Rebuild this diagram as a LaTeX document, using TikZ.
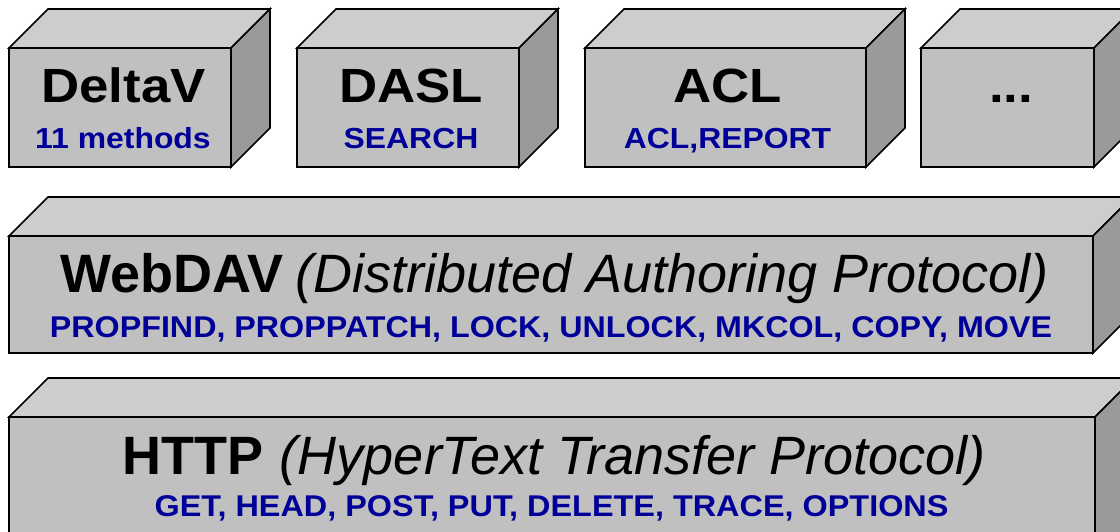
\documentclass[tikz,border=0pt]{standalone}
\usepackage{graphicx}
\usepackage{fontspec}
\setmainfont{Liberation Sans}
\definecolor{frontc}{HTML}{C0C0C0}
\definecolor{topc}{HTML}{CDCDCD}
\definecolor{sidec}{HTML}{9A9A9A}
\definecolor{methc}{HTML}{000099}
\newcommand\widen[2]{\scalebox{#1}[1]{#2}}
\tikzset{
  faceline/.style={draw=black,line width=1.6pt,line join=miter},
  bigtitle/.style={anchor=base,inner sep=0pt,font=\fontsize{48}{48}\selectfont\bfseries},
  layertitle/.style={anchor=base,inner sep=0pt,font=\fontsize{54}{54}\selectfont},
  methods/.style={anchor=base,inner sep=0pt,text=methc,font=\fontsize{29}{29}\selectfont\bfseries},
  layermethods/.style={anchor=base,inner sep=0pt,text=methc,font=\fontsize{30}{30}\selectfont\bfseries},
}
\newcommand\cubebox[5]{%
  \path[faceline,fill=topc] (#2,#3) -- (#2+39,#3-39) -- (#4+39,#3-39) -- (#4,#3) -- cycle;
  \path[faceline,fill=sidec] (#4,#3) -- (#4+39,#3-39) -- (#4+39,#5-39) -- (#4,#5) -- cycle;
  \path[faceline,fill=frontc] (#2,#3) rectangle (#4,#5);
  \coordinate (#1) at ({(#2+#4)/2},{(#3+#5)/2});
}
\begin{document}
\begin{tikzpicture}[x=1pt,y=-1pt]
\useasboundingbox (0,0) rectangle (1120,531);
\clip (0,0) rectangle (1120,531);
\cubebox{deltav}{9}{48}{231}{167}
\cubebox{dasl}{297}{48}{519}{167}
\cubebox{acl}{585}{48}{866}{167}
\cubebox{more}{921}{48}{1094}{167}
\cubebox{webdav}{9}{236}{1093}{353}
\cubebox{http}{9}{417}{1095}{580}
\node[bigtitle] (deltavT) at (123.5,102.5) {\widen{1.1}{DeltaV}};
\node[methods] (deltavM) at (123,148) {\widen{1.1}{11 methods}};
\node[bigtitle] (daslT) at (411,102.5) {\widen{1.1}{DASL}};
\node[methods] (daslM) at (411,148) {\widen{1.1}{SEARCH}};
\node[bigtitle] (aclT) at (727.5,102.5) {\widen{1.1}{ACL}};
\node[methods] (aclM) at (727.5,148) {\widen{1.1}{ACL,REPORT}};
\node[bigtitle] (moreT) at (1011,102.5) {\widen{1.1}{...}};
\node[layertitle] (webdavT) at (555,292) {\textbf{WebDAV}\hspace{0.22em}\textit{(Distributed Authoring Protocol)}};
\node[layermethods] (webdavM) at (551,337) {\widen{1.075}{PROPFIND, PROPPATCH, LOCK, UNLOCK, MKCOL, COPY, MOVE}};
\node[layertitle] (httpT) at (554,474) {\textbf{HTTP}\hspace{0.3em}\textit{(HyperText Transfer Protocol)}};
\node[layermethods] (httpM) at (551.5,516) {\widen{1.08}{GET, HEAD, POST, PUT, DELETE, TRACE, OPTIONS}};
\end{tikzpicture}
\end{document}
